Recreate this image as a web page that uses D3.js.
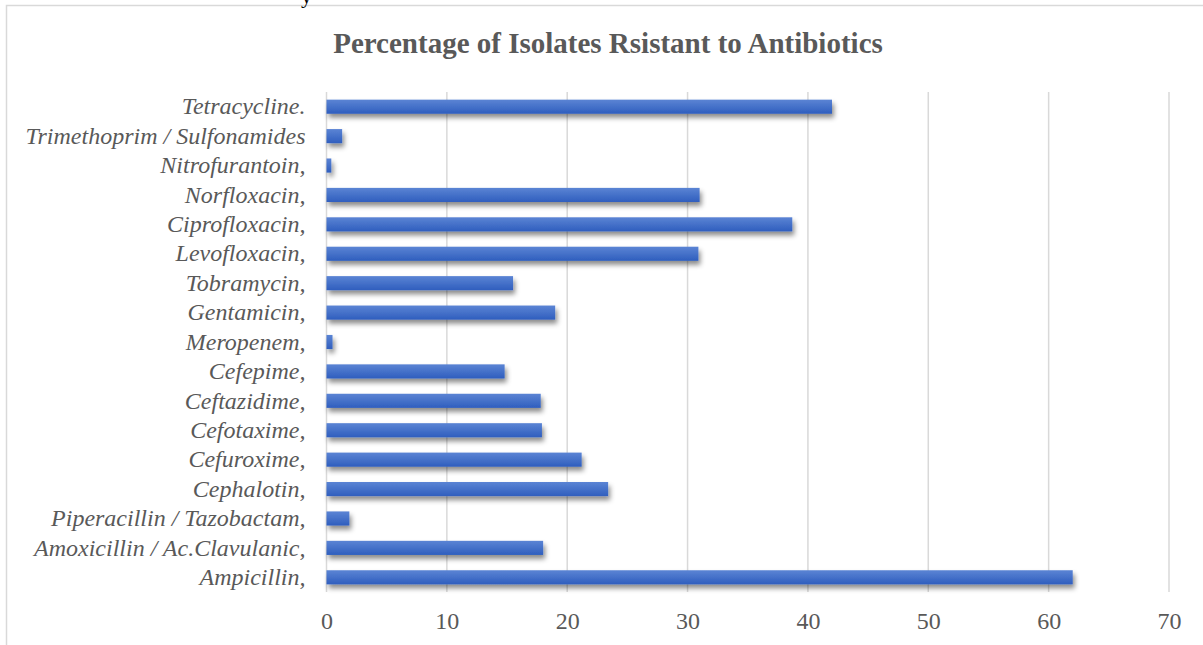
<!DOCTYPE html>
<html>
<head>
<meta charset="utf-8">
<script src="https://cdn.jsdelivr.net/npm/d3@7"></script>
<style>
  body { margin: 0; background: #fff; }
  svg { display: block; }
</style>
</head>
<body>
<div id="chart"></div>
<script>
// Antibiotics, top to bottom as drawn
var antibiotics = [
    "Tetracycline.", "Trimethoprim / Sulfonamides", "Nitrofurantoin,", "Norfloxacin,",
    "Ciprofloxacin,", "Levofloxacin,", "Tobramycin,", "Gentamicin,", "Meropenem,",
    "Cefepime,", "Ceftazidime,", "Cefotaxime,", "Cefuroxime,", "Cephalotin,",
    "Piperacillin / Tazobactam,", "Amoxicillin / Ac.Clavulanic,", "Ampicillin,"
];
// Percentage of resistant isolates
var resistance = [42, 1.3, 0.4, 31, 38.7, 30.9, 15.5, 19, 0.5, 14.8, 17.8, 17.9, 21.2, 23.4, 1.9, 18, 62];
var xTicks = [0, 10, 20, 30, 40, 50, 60, 70];
var chartTitle = "Percentage of Isolates Rsistant to Antibiotics";

var width = 1203, height = 645;
var margin = { top: 92, right: 34, bottom: 53, left: 326.5 };
var serif = "'Liberation Serif', 'Times New Roman', serif";

var svg = d3.select("#chart").append("svg")
    .attr("width", width)
    .attr("height", height);

var defs = svg.append("defs");

// Bar fill, lighter on top
var grad = defs.append("linearGradient")
    .attr("id", "barFill")
    .attr("x1", 0).attr("y1", 0).attr("x2", 0).attr("y2", 1);
grad.append("stop").attr("offset", "0%").attr("stop-color", "#5b84d4");
grad.append("stop").attr("offset", "100%").attr("stop-color", "#2f5ebe");

// Soft shadow under the bars
var shadow = defs.append("filter")
    .attr("id", "barShadow")
    .attr("x", "-5%").attr("y", "-40%")
    .attr("width", "115%").attr("height", "200%");
shadow.append("feDropShadow")
    .attr("dx", 2).attr("dy", 4)
    .attr("stdDeviation", 2.5)
    .attr("flood-color", "#000")
    .attr("flood-opacity", 0.45);

// Outer frame of the chart
svg.append("rect")
    .attr("x", 6.5).attr("y", 5.5)
    .attr("width", width).attr("height", height)
    .attr("fill", "none")
    .attr("stroke", "#d9d9d9")
    .attr("stroke-width", 1.5);

// Cut-off text line from above the chart
svg.append("text")
    .attr("x", 301).attr("y", 3)
    .attr("font-family", serif)
    .attr("font-size", 22)
    .attr("fill", "#000")
    .text("y");

var x = d3.scaleLinear()
    .domain([0, 70])
    .range([margin.left, width - margin.right]);

var y = d3.scaleBand()
    .domain(antibiotics)
    .range([margin.top, height - margin.bottom])
    .paddingInner(0.52)
    .paddingOuter(0.26);

// Title
svg.append("text")
    .attr("x", 608)
    .attr("y", 53)
    .attr("text-anchor", "middle")
    .attr("font-family", serif)
    .attr("font-weight", "bold")
    .attr("font-size", 29)
    .attr("fill", "#595959")
    .text(chartTitle);

// Vertical gridlines
svg.append("g")
    .selectAll("line")
    .data(xTicks)
    .join("line")
    .attr("x1", function(d) { return x(d); })
    .attr("x2", function(d) { return x(d); })
    .attr("y1", margin.top)
    .attr("y2", height - margin.bottom)
    .attr("stroke", "#d9d9d9")
    .attr("stroke-width", 1.5);

// X axis labels only
var xAxis = d3.axisBottom(x).tickValues(xTicks).tickSize(0).tickPadding(0);
var gx = svg.append("g")
    .attr("transform", "translate(0," + (height - margin.bottom + 20) + ")")
    .call(xAxis);
gx.select(".domain").remove();
gx.selectAll("text")
    .attr("dy", "0.71em")
    .attr("font-family", serif)
    .attr("font-size", 24)
    .attr("fill", "#595959");

// Category labels
var yAxis = d3.axisLeft(y).tickSize(0).tickPadding(21);
var gy = svg.append("g")
    .attr("transform", "translate(" + margin.left + ",0)")
    .call(yAxis);
gy.select(".domain").remove();
gy.selectAll("text")
    .attr("font-family", serif)
    .attr("font-style", "italic")
    .attr("font-size", 24)
    .attr("fill", "#595959");

// Bars
svg.append("g")
    .attr("filter", "url(#barShadow)")
    .selectAll("rect")
    .data(antibiotics)
    .join("rect")
    .attr("x", x(0))
    .attr("y", function(d) { return y(d); })
    .attr("width", function(d, i) { return x(resistance[i]) - x(0); })
    .attr("height", y.bandwidth())
    .attr("fill", "url(#barFill)");
</script>
</body>
</html>
